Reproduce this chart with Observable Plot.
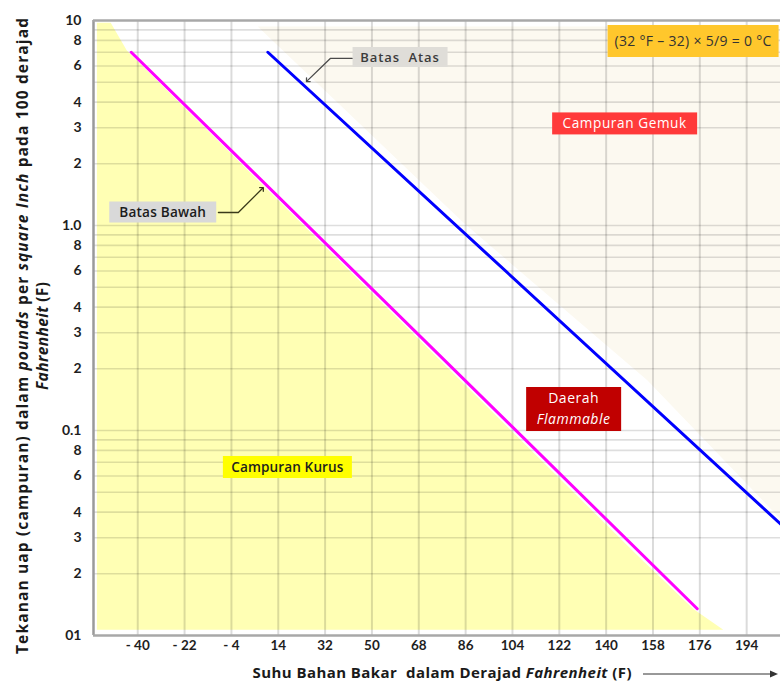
<!DOCTYPE html>
<html><head><meta charset="utf-8">
<script src="https://cdn.jsdelivr.net/npm/d3@7"></script>
<script src="https://cdn.jsdelivr.net/npm/@observablehq/plot@0.6"></script>
<style>
html,body{margin:0;padding:0;background:#fff;}
#chart{width:780px;height:684px;overflow:hidden;}
</style></head><body><div id="chart"></div>
<script>
// ---------------- data ----------------
const xDomain = [-57, 207];
const yDomain = [0.01, 10];
const xTicks = [-40, -22, -4, 14, 32, 50, 68, 86, 104, 122, 140, 158, 176, 194];
const xTickLabels = ["- 40", "- 22", "- 4", "14", "32", "50", "68", "86", "104", "122", "140", "158", "176", "194"];
const yTicks = [0.01, 0.02, 0.03, 0.04, 0.06, 0.08, 0.1, 0.2, 0.3, 0.4, 0.6, 0.8, 1, 2, 3, 4, 6, 8, 10];
const yTickLabels = ["01", "2", "3", "4", "6", "8", "0.1", "2", "3", "4", "6", "8", "1.0", "2", "3", "4", "6", "8", "10"];
const yGrid = [0.02, 0.03, 0.04, 0.05, 0.06, 0.07, 0.08, 0.09, 0.1, 0.2, 0.3, 0.4, 0.5, 0.6, 0.7, 0.8, 0.9, 1, 2, 3, 4, 5, 6, 7, 8, 9];

// Batas Bawah (lower limit) and Batas Atas (upper limit)
const bawahF = [-42.5, 175];
const bawahP = [7.0, 0.0135];
const atasF = [10, 207];
const atasP = [7.0, 0.035];

// Campuran Kurus (lean) region boundary
const kurusF = [-55.5, -50.2, -44.0, 154.0, 173.7, 185.2];
const kurusP = [9.7, 9.7, 7.1, 0.0232, 0.0134, 0.0106];
const kurusBase = 0.0106;
// Campuran Gemuk (rich) region boundary
const gemukF = [6.3, 85.2, 156, 207];
const gemukP = [9.3, 1.03, 0.175, 0.037];
const gemukTop = 9.3;

// annotations
const labelNames = ["atas", "bawah", "gemuk", "rumus", "daerah", "kurus"];
const labelLines = [["Batas  Atas"], ["Batas Bawah"], ["Campuran Gemuk"], ["(32 °F – 32) × 5/9 = 0 °C"], ["Daerah", "Flammable"], ["Campuran Kurus"]];
const labelF = [61, -30.2, 147.3, 173.6, 127.7, 17.7];
const labelP = [6.6, 1.157, 3.13, 7.9, 0.1266, 0.066];

const arrowAtasF = [42.5, 34.0, 25.2];
const arrowAtasP = [6.53, 6.53, 5.09];
const arrowBawahF = [-9.0, -1.35, 7.9];
const arrowBawahP = [1.157, 1.157, 1.515];

// ---------------- styles ----------------
const FONT = "'Open Sans', Lato, sans-serif";
const TICKFONT = "Lato, 'Open Sans', sans-serif";
const boxStyle = {
  atas:   {w: 95,  h: 20, fill: "#dfddd8", color: "#3b3b3b", size: 13, weight: 600, spacing: 0.9, lh: 1.35, italic: []},
  bawah:  {w: 107, h: 21, fill: "#d9d9d9", color: "#1c1c1c", size: 13.6, weight: 600, spacing: 0.2, lh: 1.35, italic: []},
  gemuk:  {w: 145, h: 22, fill: "#ff3a3a", color: "#ffffff", size: 13.6, weight: 500, spacing: 0.6, lh: 1.35, italic: []},
  rumus:  {w: 171, h: 32, fill: "#ffc72c", color: "#333333", size: 14, weight: 500, spacing: 0.3, lh: 1.35, italic: []},
  daerah: {w: 95,  h: 44, fill: "#c00000", color: "#ffffff", size: 14, weight: 500, spacing: 0.5, lh: 1.5, italic: [1]},
  kurus:  {w: 129, h: 22, fill: "#ffff00", color: "#1e1e1e", size: 13.6, weight: 600, spacing: 0.1, lh: 1.35, italic: []}
};

const tbl = (F, P) => F.map((f, i) => ({F: f, P: P[i]}));
const yLabelMap = new Map(yTicks.map((t, i) => [t, yTickLabels[i]]));
const xLabelMap = new Map(xTicks.map((t, i) => [t, xTickLabels[i]]));

const chart = Plot.plot({
  width: 780, height: 684,
  marginLeft: 93, marginRight: 0, marginTop: 20, marginBottom: 49,
  style: {fontFamily: TICKFONT, background: "#fff", overflow: "visible"},
  x: {domain: xDomain, label: null, axis: null},
  y: {type: "log", domain: yDomain, label: null, axis: null},
  marks: [
    Plot.areaY(tbl(kurusF, kurusP), {x: "F", y1: kurusBase, y2: "P", fill: "#ffffb4"}),
    Plot.areaY(tbl(gemukF, gemukP), {x: "F", y1: "P", y2: gemukTop, fill: "#fcf9f0"}),
    Plot.ruleX(xTicks, {stroke: "#000", strokeOpacity: 0.14, strokeWidth: 2}),
    Plot.ruleY(yGrid, {stroke: "#000", strokeOpacity: 0.13, strokeWidth: 1.6}),
    Plot.ruleX([xDomain[0]], {stroke: "#9a9a9a", strokeWidth: 2.5}),
    Plot.ruleY(yDomain, {stroke: "#a8a8a8", strokeWidth: 2.5}),
    Plot.line(tbl(bawahF, bawahP), {x: "F", y: "P", stroke: "#ff00ff", strokeWidth: 3}),
    Plot.line(tbl(atasF, atasP), {x: "F", y: "P", stroke: "#0000ff", strokeWidth: 3}),
    Plot.line(tbl(arrowAtasF, arrowAtasP), {x: "F", y: "P", stroke: "#4a4a4a", strokeWidth: 1.3, markerEnd: "arrow"}),
    Plot.line(tbl(arrowBawahF, arrowBawahP), {x: "F", y: "P", stroke: "#3a3a1a", strokeWidth: 1.3, markerEnd: "arrow"}),
    // x tick labels
    Plot.text(xTicks, {x: d => d, frameAnchor: "bottom", dy: 14, text: d => xLabelMap.get(d),
      fontSize: 13.5, fontWeight: "bold", fill: "#1e1e1e"}),
    // y tick labels
    Plot.text(yTicks, {y: d => d, frameAnchor: "left", dx: -12, textAnchor: "end", text: d => yLabelMap.get(d),
      fontSize: 14, fontWeight: "bold", fill: "#1e1e1e"})
  ]
});
document.getElementById("chart").appendChild(chart);

// ---------------- annotation boxes (positioned through Plot's scales) ----------------
const sx = chart.scale("x"), sy = chart.scale("y");
const svg = d3.select(chart);
const ann = svg.append("g").attr("font-family", FONT);
labelNames.forEach((name, i) => {
  const st = boxStyle[name];
  const cx = sx.apply(labelF[i]), cy = sy.apply(labelP[i]);
  const g = ann.append("g");
  g.append("rect").attr("x", cx - st.w / 2).attr("y", cy - st.h / 2)
    .attr("width", st.w).attr("height", st.h).attr("fill", st.fill);
  const lines = labelLines[i];
  const lh = st.size * st.lh;
  lines.forEach((ln, j) => {
    g.append("text").attr("x", cx).attr("y", cy + (j - (lines.length - 1) / 2) * lh)
      .attr("dy", "0.35em").attr("text-anchor", "middle")
      .attr("font-size", st.size).attr("font-weight", st.weight)
      .attr("letter-spacing", st.spacing)
      .attr("font-style", st.italic.includes(j) ? "italic" : "normal")
      .attr("fill", st.color).text(ln);
  });
});

// ---------------- axis titles ----------------
function richText(parent, parts) {
  parts.forEach(([s, it]) => parent.append("tspan").attr("font-style", it ? "italic" : "normal").text(s));
}
const yt = svg.append("g").attr("transform", "translate(0,336) rotate(-90)")
  .attr("font-family", FONT).attr("font-weight", "bold").attr("font-size", 15.5).attr("fill", "#1a1a1a")
  .attr("text-anchor", "middle");
richText(yt.append("text").attr("x", 0).attr("y", 28).attr("textLength", 636).attr("lengthAdjust", "spacing"),
  [["Tekanan uap (campuran) dalam ", false], ["pounds", true], [" per ", false], ["square Inch", true], [" pada 100 derajad", false]]);
richText(yt.append("text").attr("x", 0).attr("y", 48).attr("textLength", 108).attr("lengthAdjust", "spacing"),
  [["Fahrenheit", true], [" (F)", false]]);

const xt = svg.append("g").attr("font-family", FONT).attr("font-weight", "bold")
  .attr("font-size", 15).attr("fill", "#1a1a1a");
richText(xt.append("text").attr("x", 442).attr("y", 678).attr("text-anchor", "middle")
    .attr("textLength", 379).attr("lengthAdjust", "spacing"),
  [["Suhu Bahan Bakar  dalam Derajad ", false], ["Fahrenheit", true], [" (F)", false]]);
xt.append("line").attr("x1", 643).attr("x2", 770).attr("y1", 674).attr("y2", 674)
  .attr("stroke", "#333").attr("stroke-width", 1);
xt.append("path").attr("d", "M770,670.5 L778,674 L770,677.5 Z").attr("fill", "#333");
</script></body></html>
